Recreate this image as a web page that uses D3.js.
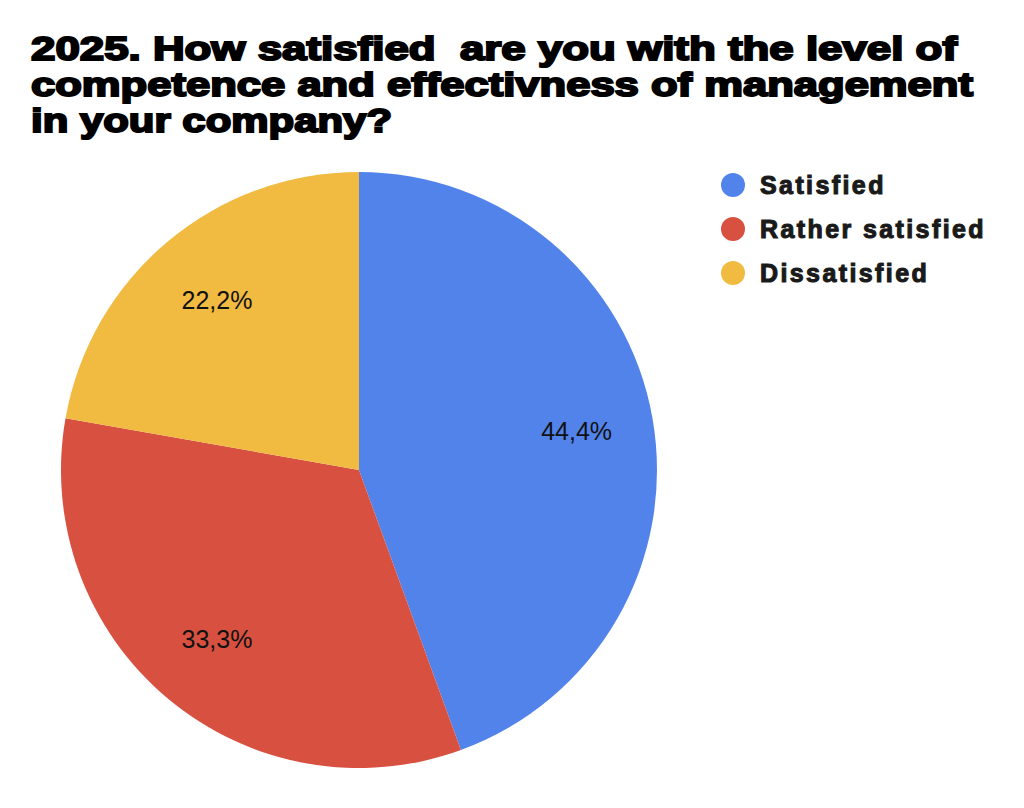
<!DOCTYPE html>
<html>
<head>
<meta charset="utf-8">
<script src="https://cdn.jsdelivr.net/npm/d3@7"></script>
<style>
  body { margin: 0; background: #fff; }
  svg { display: block; }
</style>
</head>
<body>
<div id="chart"></div>
<script>
// data
var categories = ['Satisfied', 'Rather satisfied', 'Dissatisfied'];
var values = [4, 3, 2];
var labels = ['44,4%', '33,3%', '22,2%'];
var colors = ['#5283eb', '#d85140', '#f1bb41'];
var titleLines = [
  '2025. How satisfied  are you with the level of',
  'competence and effectivness of management',
  'in your company?'
];
var titleWidths = [926, 942, 361];

var width = 1024, height = 808;
var cx = 359, cy = 470, radius = 298;

var svg = d3.select('#chart').append('svg')
  .attr('width', width)
  .attr('height', height);

// title, heavy sans to stand in for Arial Black
svg.append('g').selectAll('text')
  .data(titleLines)
  .enter().append('text')
    .attr('x', 31)
    .attr('y', function(d, i) { return 60 + i * 36 })
    .attr('textLength', function(d, i) { return titleWidths[i] })
    .attr('lengthAdjust', 'spacingAndGlyphs')
    .attr('font-family', 'Liberation Sans, Arial, sans-serif')
    .attr('font-weight', 'bold')
    .attr('font-size', 34)
    .attr('fill', '#000')
    .attr('stroke', '#000')
    .attr('stroke-width', 2)
    .style('white-space', 'pre')
    .text(function(d) { return d });

var pie = d3.pie().sort(null).value(function(d) { return d });
var arc = d3.arc().innerRadius(0).outerRadius(radius);
var labelArc = d3.arc().innerRadius(221).outerRadius(221);

var g = svg.append('g').attr('transform', 'translate(' + cx + ',' + cy + ')');
var slices = pie(values);

g.selectAll('path')
  .data(slices)
  .enter().append('path')
    .attr('d', arc)
    .attr('fill', function(d, i) { return colors[i] });

g.selectAll('text')
  .data(slices)
  .enter().append('text')
    .attr('transform', function(d) { return 'translate(' + labelArc.centroid(d) + ')' })
    .attr('dy', '0.35em')
    .attr('text-anchor', 'middle')
    .attr('font-family', 'Liberation Sans, Arial, sans-serif')
    .attr('font-size', 25)
    .attr('fill', '#111')
    .text(function(d, i) { return labels[i] });

// legend
var legend = svg.append('g').selectAll('g')
  .data(categories)
  .enter().append('g')
    .attr('transform', function(d, i) { return 'translate(733,' + (185 + i * 44) + ')' });

legend.append('circle')
  .attr('r', 12)
  .attr('fill', function(d, i) { return colors[i] });

legend.append('text')
  .attr('x', 27)
  .attr('dy', '0.35em')
  .attr('font-family', 'Liberation Sans, Arial, sans-serif')
  .attr('font-weight', 'bold')
  .attr('font-size', 25)
  .attr('letter-spacing', 2.4)
  .attr('fill', '#1a1a1a')
  .attr('stroke', '#1a1a1a')
  .attr('stroke-width', 1.1)
  .text(function(d) { return d });
</script>
</body>
</html>
